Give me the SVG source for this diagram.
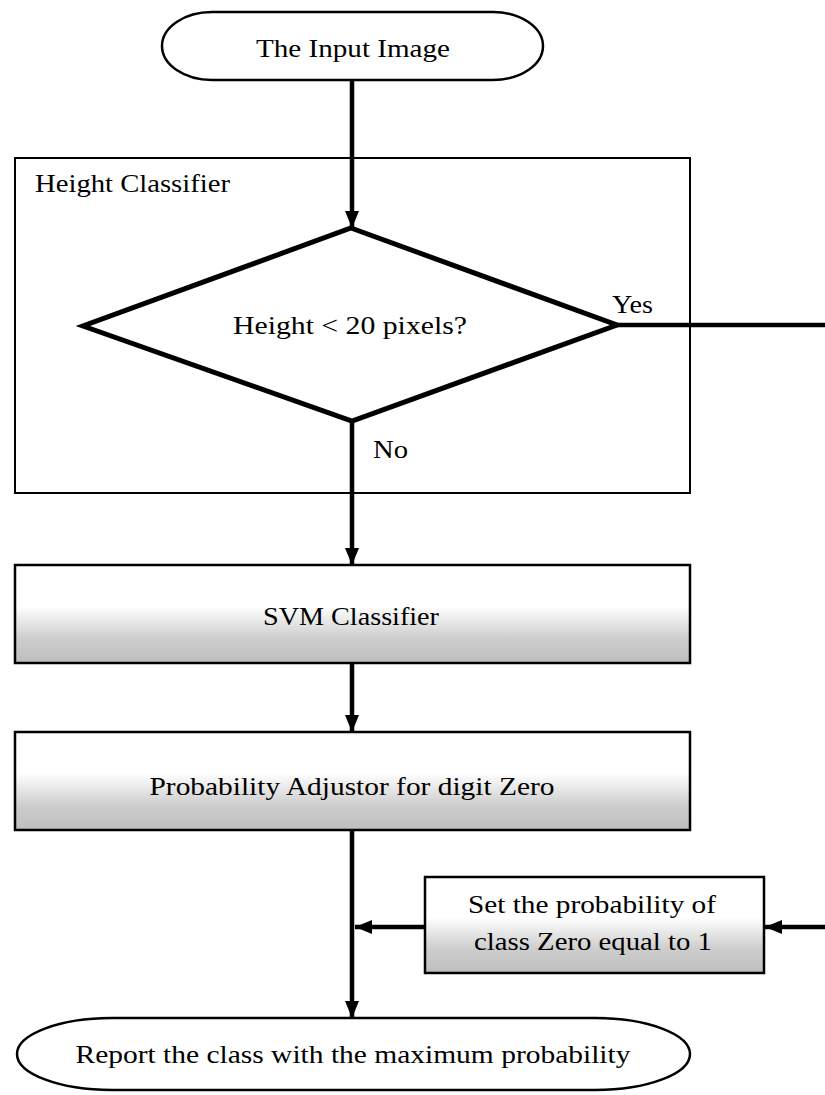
<svg xmlns="http://www.w3.org/2000/svg" width="825" height="1095" viewBox="0 0 825 1095">
  <defs>
    <linearGradient id="shade" x1="0" y1="0" x2="0" y2="1">
      <stop offset="0" stop-color="#ffffff"/>
      <stop offset="0.42" stop-color="#ffffff"/>
      <stop offset="0.75" stop-color="#cdcdcd"/>
      <stop offset="1" stop-color="#bebebe"/>
    </linearGradient>
    <marker id="arrow" markerUnits="userSpaceOnUse" markerWidth="18" markerHeight="16" refX="17" refY="7" orient="auto">
      <path d="M0,0 L17,7 L0,14 z" fill="#000"/>
    </marker>
  </defs>
  <style>
    text { font-family: "Liberation Serif", "Times New Roman", serif; font-size: 25px; fill: #000; }
    .mid { text-anchor: middle; }
    .term { fill: #fff; stroke: #000; stroke-width: 2.5; }
    .frame { fill: none; stroke: #000; stroke-width: 2; }
    .proc { fill: url(#shade); stroke: #000; stroke-width: 2.5; }
    .dec { fill: none; stroke: #000; stroke-width: 5; stroke-linejoin: miter; }
    .conn { fill: none; stroke: #000; stroke-width: 4.5; }
  </style>

  <g id="input-image">
    <rect class="term" x="162" y="12" width="381" height="68" rx="50" ry="34"/>
    <text class="mid" x="353" y="57" textLength="194" lengthAdjust="spacingAndGlyphs">The Input Image</text>
  </g>

  <g id="height-classifier">
    <rect class="frame" x="15" y="158" width="675" height="335"/>
    <text x="35" y="192" textLength="195" lengthAdjust="spacingAndGlyphs">Height Classifier</text>
  </g>

  <g id="height-decision">
    <polygon class="dec" points="351,228 617,325 352,421 83,326"/>
    <text class="mid" x="350" y="334" textLength="234" lengthAdjust="spacingAndGlyphs">Height &lt; 20 pixels?</text>
  </g>

  <g id="svm-classifier">
    <rect class="proc" x="15" y="565" width="675" height="98"/>
    <text class="mid" x="351" y="625" textLength="176" lengthAdjust="spacingAndGlyphs">SVM Classifier</text>
  </g>

  <g id="probability-adjustor">
    <rect class="proc" x="15" y="732" width="675" height="98"/>
    <text class="mid" x="352" y="795" textLength="405" lengthAdjust="spacingAndGlyphs">Probability Adjustor for digit Zero</text>
  </g>

  <g id="set-probability">
    <rect class="proc" x="425" y="877" width="339" height="96"/>
    <text class="mid" x="592" y="913" textLength="248" lengthAdjust="spacingAndGlyphs">Set the probability of</text>
    <text class="mid" x="593" y="950" textLength="238" lengthAdjust="spacingAndGlyphs">class Zero equal to 1</text>
  </g>

  <g id="report-class">
    <rect class="term" x="17" y="1018" width="673" height="72" rx="95" ry="36"/>
    <text class="mid" x="353" y="1063" textLength="555" lengthAdjust="spacingAndGlyphs">Report the class with the maximum probability</text>
  </g>

  <g id="connectors">
    <line class="conn" x1="352" y1="80" x2="352" y2="228" marker-end="url(#arrow)"/>
    <line class="conn" x1="617" y1="325" x2="825" y2="325"/>
    <line class="conn" x1="352" y1="421" x2="352" y2="565" marker-end="url(#arrow)"/>
    <line class="conn" x1="352" y1="663" x2="352" y2="732" marker-end="url(#arrow)"/>
    <line class="conn" x1="352" y1="830" x2="352" y2="1018" marker-end="url(#arrow)"/>
    <line class="conn" x1="425" y1="927" x2="355" y2="927" marker-end="url(#arrow)"/>
    <line class="conn" x1="825" y1="927" x2="765" y2="927" marker-end="url(#arrow)"/>
    <text x="612" y="313" textLength="41" lengthAdjust="spacingAndGlyphs">Yes</text>
    <text x="373" y="458" textLength="35" lengthAdjust="spacingAndGlyphs">No</text>
  </g>
</svg>
